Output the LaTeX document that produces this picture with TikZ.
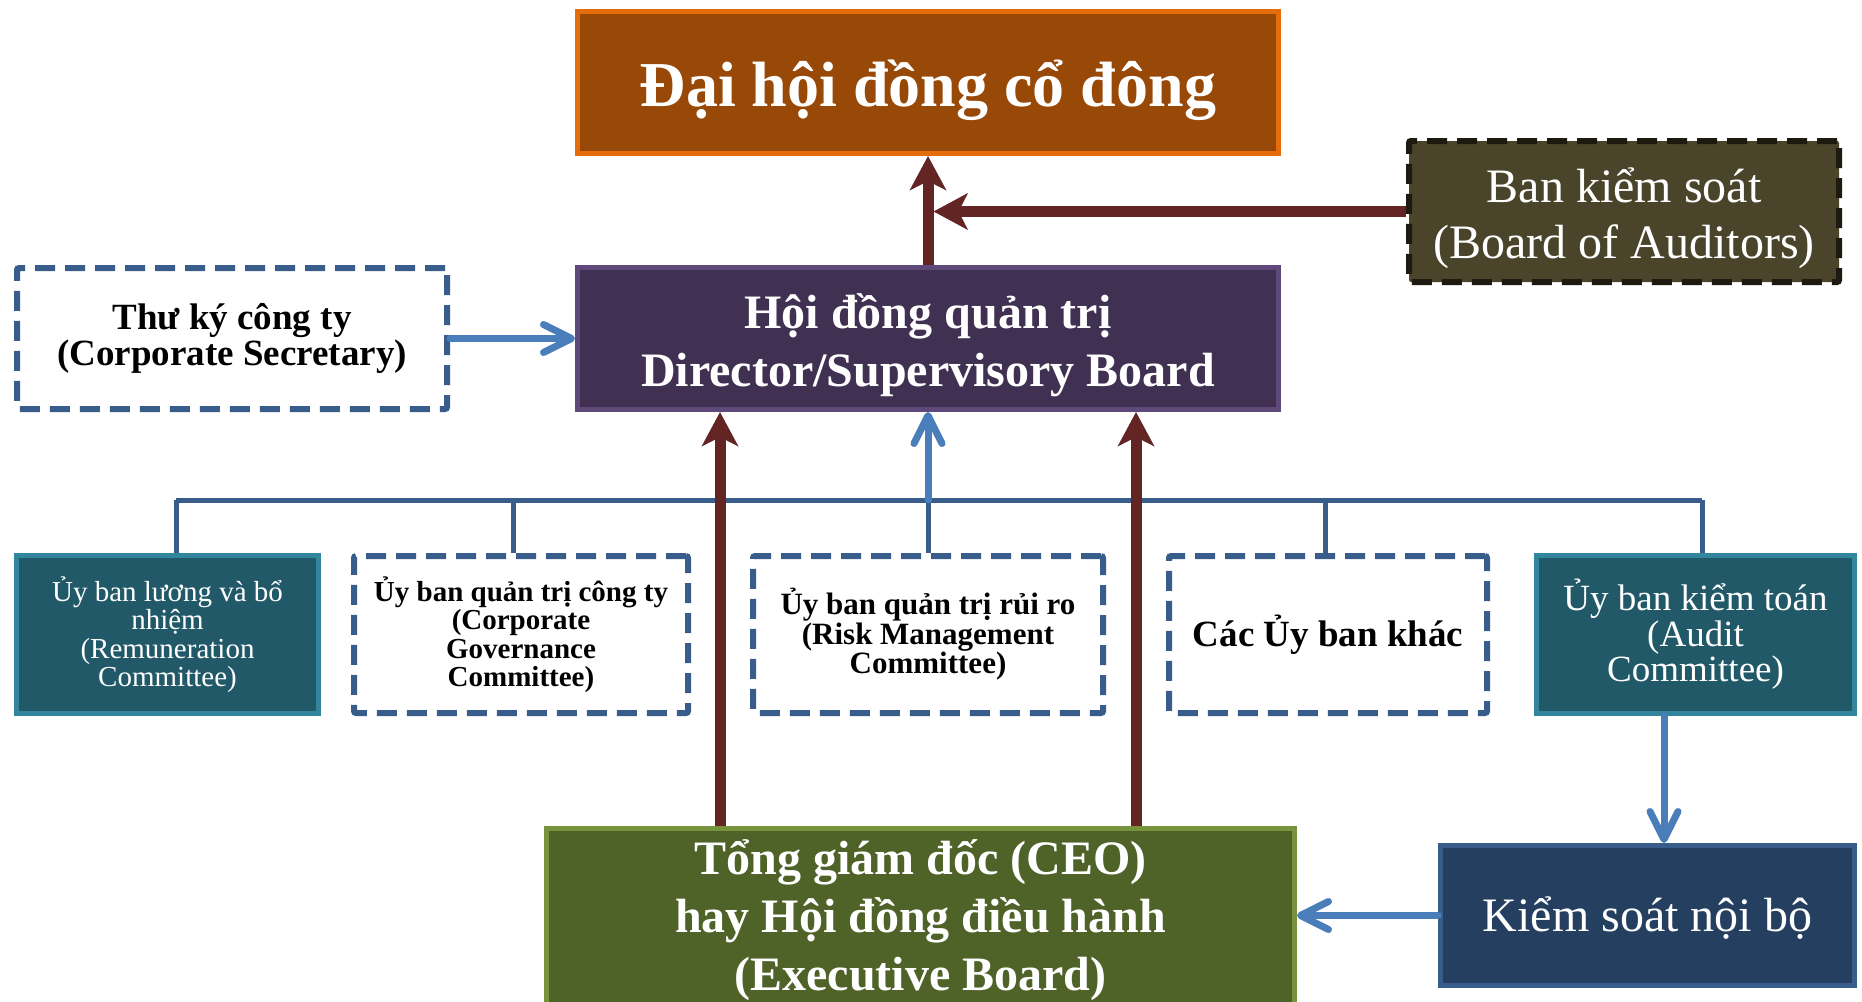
\documentclass[tikz,border=0pt]{standalone}
\usepackage{fontspec}
\setmainfont{Liberation Serif}
\usetikzlibrary{arrows.meta}

% palette
\definecolor{agmfill}{HTML}{984807}
\definecolor{agmline}{HTML}{E46C0A}
\definecolor{audfill}{HTML}{4A452A}
\definecolor{audline}{HTML}{1D1B10}
\definecolor{bodfill}{HTML}{403152}
\definecolor{bodline}{HTML}{5F497A}
\definecolor{tealfill}{HTML}{215968}
\definecolor{tealline}{HTML}{31859C}
\definecolor{ceofill}{HTML}{4F6228}
\definecolor{ceoline}{HTML}{77933C}
\definecolor{icfill}{HTML}{243F60}
\definecolor{navyline}{HTML}{385D8A}
\definecolor{arrred}{HTML}{632523}
\definecolor{arrblue}{HTML}{4A7EBB}

\newcommand{\fsz}[2]{\fontsize{#1}{#2}\selectfont}

\tikzset{
  box/.style={rectangle, inner sep=0pt, align=center, text=white},
  sz/.style 2 args={minimum width=#1, minimum height=#2},
  solidbox/.style 2 args={box, fill=#1, draw=#2, line width=5pt},
  dashbox/.style={box, fill=white, text=black, draw=navyline, line width=6pt,
    dash pattern=on 20pt off 10pt, rounded corners=2pt},
  redarr/.style={draw=arrred, line width=11pt,
    -{Stealth[length=34pt,width=36pt,inset=9pt]}},
  bluearr/.style={draw=arrblue, line width=7pt, line cap=round,
    -{Straight Barb[length=28pt,width=28pt,round]}},
  busline/.style={draw=navyline, line width=5pt},
}

\begin{document}
\begin{tikzpicture}[x=1pt,y=-1pt]
\clip (0,0) rectangle (1862,1001);
\fill[white] (0,0) rectangle (1862,1001);

% top level bodies
\node[solidbox={agmfill}{agmline}, sz={701pt}{142pt}, font=\fsz{64}{70}\bfseries,
  text height=62pt, text depth=14pt]
  (dh) at (928,82.5) {Đại hội đồng cổ đông};
\node[box, fill=audfill, draw=audline, line width=6pt, dash pattern=on 20pt off 10pt,
  rounded corners=2pt, sz={430pt}{141pt}, font=\fsz{48}{56},
  text height=101pt, text depth=8pt]
  (bks) at (1624,211.5) {Ban kiểm soát\\(Board of Auditors)};
\node[dashbox, sz={430pt}{141pt}, font=\fsz{37}{36}\bfseries]
  (tk) at (232,338.5) {Thư ký công ty\\(Corporate Secretary)};
\node[solidbox={bodfill}{bodline}, sz={701pt}{142pt}, font=\fsz{48}{58}\bfseries,
  text height=106pt, text depth=10pt]
  (hd) at (928,338.5) {Hội đồng quản trị\\Director/Supervisory Board};

% committees
\node[solidbox={tealfill}{tealline}, sz={302pt}{158pt}, font=\fsz{29}{28.5}]
  (c1) at (167.5,634.5) {Ủy ban lương và bổ\\nhiệm\\(Remuneration\\Committee)};
\node[dashbox, sz={334pt}{157pt}, font=\fsz{29}{28.5}\bfseries]
  (c2) at (521,634.5) {Ủy ban quản trị công ty\\(Corporate\\Governance\\Committee)};
\node[dashbox, sz={350pt}{157pt}, font=\fsz{31}{29.5}\bfseries]
  (c3) at (928,634.5) {Ủy ban quản trị rủi ro\\(Risk Management\\Committee)};
\node[dashbox, sz={318pt}{157pt}, font=\fsz{37}{40}\bfseries]
  (c4) at (1328,634.5) {Các Ủy ban khác};
\node[solidbox={tealfill}{tealline}, sz={318pt}{158pt}, font=\fsz{37}{35.5}]
  (c5) at (1695.5,634.5) {Ủy ban kiểm toán\\(Audit\\Committee)};

% executive level (runs off the lower edge)
\node[solidbox={ceofill}{ceoline}, sz={748pt}{184pt}, font=\fsz{48}{58}\bfseries]
  (ceo) at (920.5,920.5) {Tổng giám đốc (CEO)\\hay Hội đồng điều hành\\(Executive Board)};
\node[solidbox={icfill}{navyline}, sz={414pt}{140pt}, font=\fsz{48}{56},
  text height=42pt, text depth=10pt]
  (ks) at (1647.5,915.5) {Kiểm soát nội bộ};

% committee bus
\coordinate (b1) at (176,500);
\coordinate (b2) at (513,500);
\coordinate (b3) at (928,500);
\coordinate (b4) at (1325,500);
\coordinate (b5) at (1702,500);
\draw[busline] (b1) -- (b5);
\draw[busline] (b1) -- (b1 |- c1.north);
\draw[busline] (b2) -- (b2 |- c2.north);
\draw[busline] (b3) -- (b3 |- c3.north);
\draw[busline] (b4) -- (b4 |- c4.north);
\draw[busline] (b5) -- (b5 |- c5.north);

% reporting lines
\coordinate (ra) at (720,0);
\coordinate (rb) at (1136,0);
\coordinate (ka) at (1664,0);
\draw[redarr] (hd.north) -- (dh.south);
\draw[redarr] (bks.west) -- ([xshift=5.5pt]bks.west -| hd.north);
\draw[redarr] (ra |- ceo.north) -- (ra |- hd.south);
\draw[redarr] (rb |- ceo.north) -- (rb |- hd.south);
\draw[bluearr] (tk.east) -- (tk.east -| hd.west);
\draw[bluearr] (b3) -- (hd.south);
\draw[bluearr] (ka |- c5.south) -- (ka |- ks.north);
\draw[bluearr] (ks.west) -- (ks.west -| ceo.east);
\end{tikzpicture}
\end{document}
